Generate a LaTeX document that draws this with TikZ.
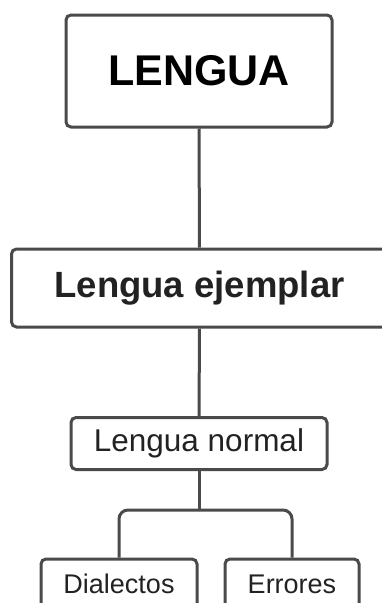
\documentclass[tikz,border=0pt]{standalone}
\usepackage{fontspec}
\setmainfont{Liberation Sans}
\definecolor{edge}{HTML}{4A4A4A}
\definecolor{txt}{HTML}{222222}
\begin{document}
\begin{tikzpicture}[x=1pt,y=-1pt,
  box/.style={draw=edge,line width=3pt,rounded corners=5pt,fill=white,text=txt,inner sep=0pt},
  conn/.style={draw=edge,line width=3pt}]
\useasboundingbox (0,0) rectangle (382,603);
\clip (0,0) rectangle (382,603);
\node[box,minimum width=266pt,minimum height=112pt,text=black] (l) at (199,71)
  {\fontsize{43}{50}\selectfont\bfseries LENGUA};
\node[box,minimum width=376pt,minimum height=78pt] (le) at (199.5,288)
  {\fontsize{36.5}{42}\selectfont\bfseries Lengua ejemplar};
\node[box,minimum width=256pt,minimum height=52pt] (ln) at (199,443.5)
  {\fontsize{31.5}{36}\selectfont Lengua normal};
\node[box,minimum width=156pt,minimum height=50pt] (d) at (119,584)
  {\fontsize{27}{31}\selectfont Dialectos};
\node[box,minimum width=134pt,minimum height=50pt] (e) at (292,584)
  {\fontsize{27}{31}\selectfont Errores};
\coordinate (j) at (199,510);
\draw[conn] (l.south) -- (le.north);
\draw[conn] (le.south) -- (ln.north);
\draw[conn] (ln.south) -- (j);
\draw[conn,rounded corners=9pt] (j) -| (d.north);
\draw[conn,rounded corners=9pt] (j) -| (e.north);
\end{tikzpicture}
\end{document}
